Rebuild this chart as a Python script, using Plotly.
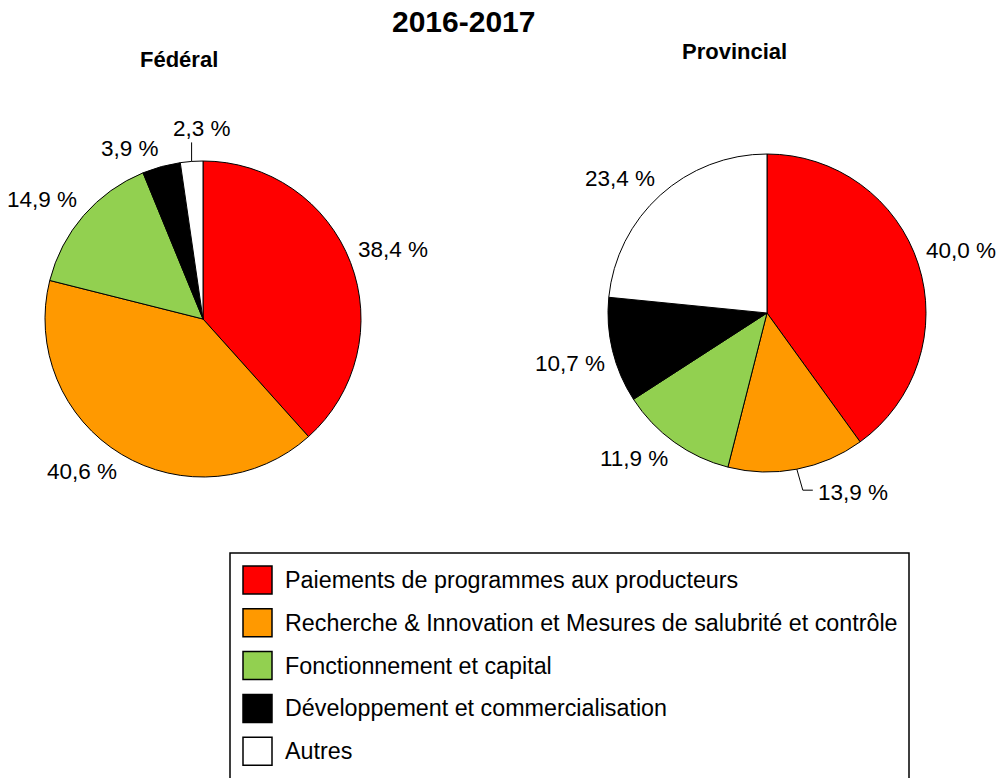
import math
import plotly.graph_objects as go

categories = [
    "Paiements de programmes aux producteurs",
    "Recherche & Innovation et Mesures de salubrité et contrôle",
    "Fonctionnement et capital",
    "Développement et commercialisation",
    "Autres",
]
federal_values = [38.4, 40.6, 14.9, 3.9, 2.3]
provincial_values = [40.0, 13.9, 11.9, 10.7, 23.4]
colors = ["#FF0000", "#FF9900", "#92D050", "#000000", "#FFFFFF"]

W, H = 997, 778
FONT = "Liberation Sans, Arial, sans-serif"
LABEL_SIZE = 22.5


def fmt(v):
    return f"{v:.1f}".replace(".", ",") + " %"


def px_dom(x0, x1, y0, y1):
    return dict(x=[x0 / W, x1 / W], y=[1 - y1 / H, 1 - y0 / H])


def mid_dir(vals, idx):
    tot = sum(vals)
    frac = (sum(vals[:idx]) + vals[idx] / 2) / tot
    a = 2 * math.pi * frac
    return math.sin(a), -math.cos(a)


def P(x, y):
    return x / W, 1 - y / H


pies = [
    dict(vals=federal_values, box=(45, 361, 161, 477), manual=4),
    dict(vals=provincial_values, box=(608, 926, 154, 472), manual=1),
]

fig = go.Figure()
for p in pies:
    fig.add_trace(go.Pie(
        labels=categories, values=p["vals"], sort=False, direction="clockwise",
        rotation=0, text=[fmt(v) for v in p["vals"]], textinfo="none",
        marker=dict(colors=colors, line=dict(color="black", width=1)),
        domain=px_dom(*p["box"]), showlegend=False, hoverinfo="label+text",
    ))

shapes = []
annotations = [
    dict(text="<b>2016-2017</b>", x=463 / W, y=1 - 22 / H, xref="paper", yref="paper",
         xanchor="center", yanchor="middle",
         showarrow=False, font=dict(size=30, family=FONT, color="black")),
    dict(text="<b>Fédéral</b>", x=179 / W, y=1 - 59 / H, xref="paper", yref="paper",
         xanchor="center", yanchor="middle",
         showarrow=False, font=dict(size=22, family=FONT, color="black")),
    dict(text="<b>Provincial</b>", x=734 / W, y=1 - 52 / H, xref="paper", yref="paper",
         xanchor="center", yanchor="middle",
         showarrow=False, font=dict(size=22, family=FONT, color="black")),
]


def label(text, x, y, xa="center", ya="middle"):
    lx, ly = P(x, y)
    annotations.append(dict(text=text, x=lx, y=ly, xref="paper", yref="paper",
                            xanchor=xa, yanchor=ya, showarrow=False,
                            font=dict(size=LABEL_SIZE, family=FONT, color="black")))


GAP = 7
for p in pies:
    vals = p["vals"]
    b = p["box"]
    cx, cy, r = (b[0] + b[1]) / 2, (b[2] + b[3]) / 2, (b[1] - b[0]) / 2
    for i, v in enumerate(vals):
        dx, dy = mid_dir(vals, i)
        ex, ey = cx + r * dx, cy + r * dy
        if i == p["manual"]:
            if p is pies[0]:
                # short vertical leader above the thin slice
                x0, y0 = P(ex, ey)
                x1, y1 = P(ex, ey - 19)
                shapes.append(dict(type="line", xref="paper", yref="paper",
                                   x0=x0, y0=y0, x1=x1, y1=y1,
                                   line=dict(color="black", width=1)))
                label(fmt(v), ex - 21, ey - 18, "left", "bottom")
            else:
                # elbow leader below the slice
                pts = [P(ex, ey), P(ex + 6, ey + 21), P(ex + 16, ey + 21)]
                path = "M {} {} L {} {} L {} {}".format(*[c for pt in pts for c in pt])
                shapes.append(dict(type="path", xref="paper", yref="paper", path=path,
                                   line=dict(color="black", width=1)))
                label(fmt(v), ex + 19, ey + 23, "left", "middle")
            continue
        # label box corner sits just outside the rim point of the slice middle
        hw = 36 if v >= 10 else 30
        hh = 11
        lx = ex + GAP * dx + math.copysign(hw, dx)
        ly = ey + GAP * dy + math.copysign(hh, dy)
        label(fmt(v), lx, ly)

# legend box
shapes.append(dict(type="rect", xref="paper", yref="paper", x0=230 / W, x1=909 / W,
                   y0=1 - 800 / H, y1=1 - 553 / H, line=dict(color="black", width=1.5),
                   fillcolor="rgba(0,0,0,0)"))
row0, step = 580, 42.8
for i, (cat, col) in enumerate(zip(categories, colors)):
    yc = row0 + i * step
    shapes.append(dict(type="rect", xref="paper", yref="paper",
                       x0=243 / W, x1=272 / W, y0=1 - (yc + 14) / H, y1=1 - (yc - 14) / H,
                       fillcolor=col, line=dict(color="black", width=1.5)))
    annotations.append(dict(text=cat, x=283 / W, y=1 - yc / H, xref="paper", yref="paper",
                            xanchor="left", yanchor="middle", showarrow=False,
                            font=dict(size=23.3, family=FONT, color="black")))

fig.update_layout(
    width=W, height=H, margin=dict(l=0, r=0, t=0, b=0),
    paper_bgcolor="white", plot_bgcolor="white",
    shapes=shapes, annotations=annotations, showlegend=False,
)
fig.write_html("out.html", config={"displayModeBar": False},
               post_script="document.body.style.margin='0';document.body.style.padding='0';")
